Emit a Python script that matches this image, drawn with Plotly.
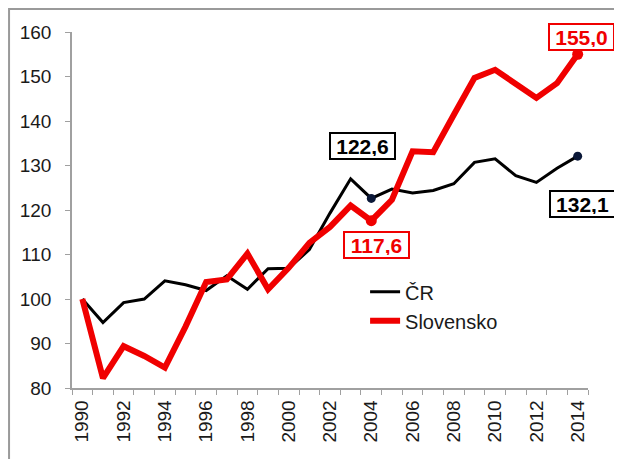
import plotly.graph_objects as go

years = list(range(1990, 2015))
cr = [100, 94.7, 99.2, 100.0, 104.1, 103.2, 101.9, 105.2, 102.2, 106.8, 106.9, 111.1,
      119.3, 127.0, 122.6, 124.7, 123.8, 124.4, 125.9, 130.7, 131.5, 127.7, 126.2, 129.4, 132.1]
sk = [100, 82.2, 89.4, 87.2, 84.6, 93.8, 103.8, 104.4, 110.2, 102.2, 107.0, 112.6,
      116.2, 121.0, 117.6, 122.3, 133.2, 133.0, 141.4, 149.7, 151.5, 148.2, 145.2, 148.5, 155.0]
x_tick_labels = [str(y) for y in range(1990, 2015, 2)]
y_ticks = list(range(80, 161, 10))

RED = "#f00000"
BLACK = "#000000"
FONT = "Liberation Sans, Arial, sans-serif"

fig = go.Figure()
fig.add_trace(go.Scatter(x=years, y=cr, mode="lines", name="ČR",
                         line=dict(color=BLACK, width=3)))
fig.add_trace(go.Scatter(x=years, y=sk, mode="lines", name="Slovensko",
                         line=dict(color=RED, width=6)))
# endpoint markers
mk_idx = [years.index(2004), years.index(2014)]
fig.add_trace(go.Scatter(x=[years[i] for i in mk_idx], y=[cr[i] for i in mk_idx],
                         mode="markers", showlegend=False,
                         marker=dict(color="#0b1838", size=9)))
fig.add_trace(go.Scatter(x=[years[i] for i in mk_idx], y=[sk[i] for i in mk_idx],
                         mode="markers", showlegend=False,
                         marker=dict(color=RED, size=11)))

def fmt(v):
    return f"{v:.1f}".replace(".", ",")

ann = [
    (2004, cr, BLACK, -9, 52),
    (2004, sk, RED, 5, -24),
    (2014, sk, RED, 4, 17),
    (2014, cr, BLACK, 5, -48),
]
for yr, ser, col, xs, ys in ann:
    v = ser[years.index(yr)]
    fig.add_annotation(x=yr, y=v, text=fmt(v), showarrow=False,
                       xshift=xs, yshift=ys, width=59, height=20,
                       font=dict(family=FONT, size=21, color=col, weight="bold"),
                       bordercolor=col, borderwidth=2, borderpad=2, bgcolor="white")

# outer frame (along the figure's top and left edges)
fig.add_shape(type="rect", xref="paper", yref="paper",
              x0=-0.122, x1=1.3, y0=-0.4, y1=1.0645,
              line=dict(color="#9a9a9a", width=2), layer="below")

fig.update_layout(
    width=614, height=451,
    margin=dict(l=64, r=34, t=24, b=70.5),
    paper_bgcolor="white", plot_bgcolor="white",
    font=dict(family=FONT, size=19, color="#1a1a1a"),
    showlegend=True,
    legend=dict(x=0.568, y=0.325, xanchor="left", yanchor="top",
                bgcolor="rgba(0,0,0,0)", font=dict(size=20, color="#1a1a1a"),
                tracegroupgap=0, itemwidth=30),
    xaxis=dict(range=[1989.5, 2014.5], showgrid=False, zeroline=False,
               showline=True, linecolor="#a0a0a0", linewidth=1.5,
               tickmode="array", tickvals=list(range(1990, 2015, 2)),
               ticktext=x_tick_labels, tickangle=-90, ticks="",
               tickfont=dict(size=19), ticklabelstandoff=3,
               minor=dict(ticks="outside", ticklen=5, tickcolor="#a0a0a0",
                          tickmode="linear", tick0=1989.5, dtick=1, showgrid=False)),
    yaxis=dict(range=[80, 160], showgrid=False, zeroline=False,
               showline=True, linecolor="#a0a0a0", linewidth=1.5,
               tickmode="array", tickvals=y_ticks, ticks="outside",
               ticklen=5, tickcolor="#a0a0a0", tickfont=dict(size=19),
               ticklabelstandoff=10),
)

fig.write_html("out.html")
